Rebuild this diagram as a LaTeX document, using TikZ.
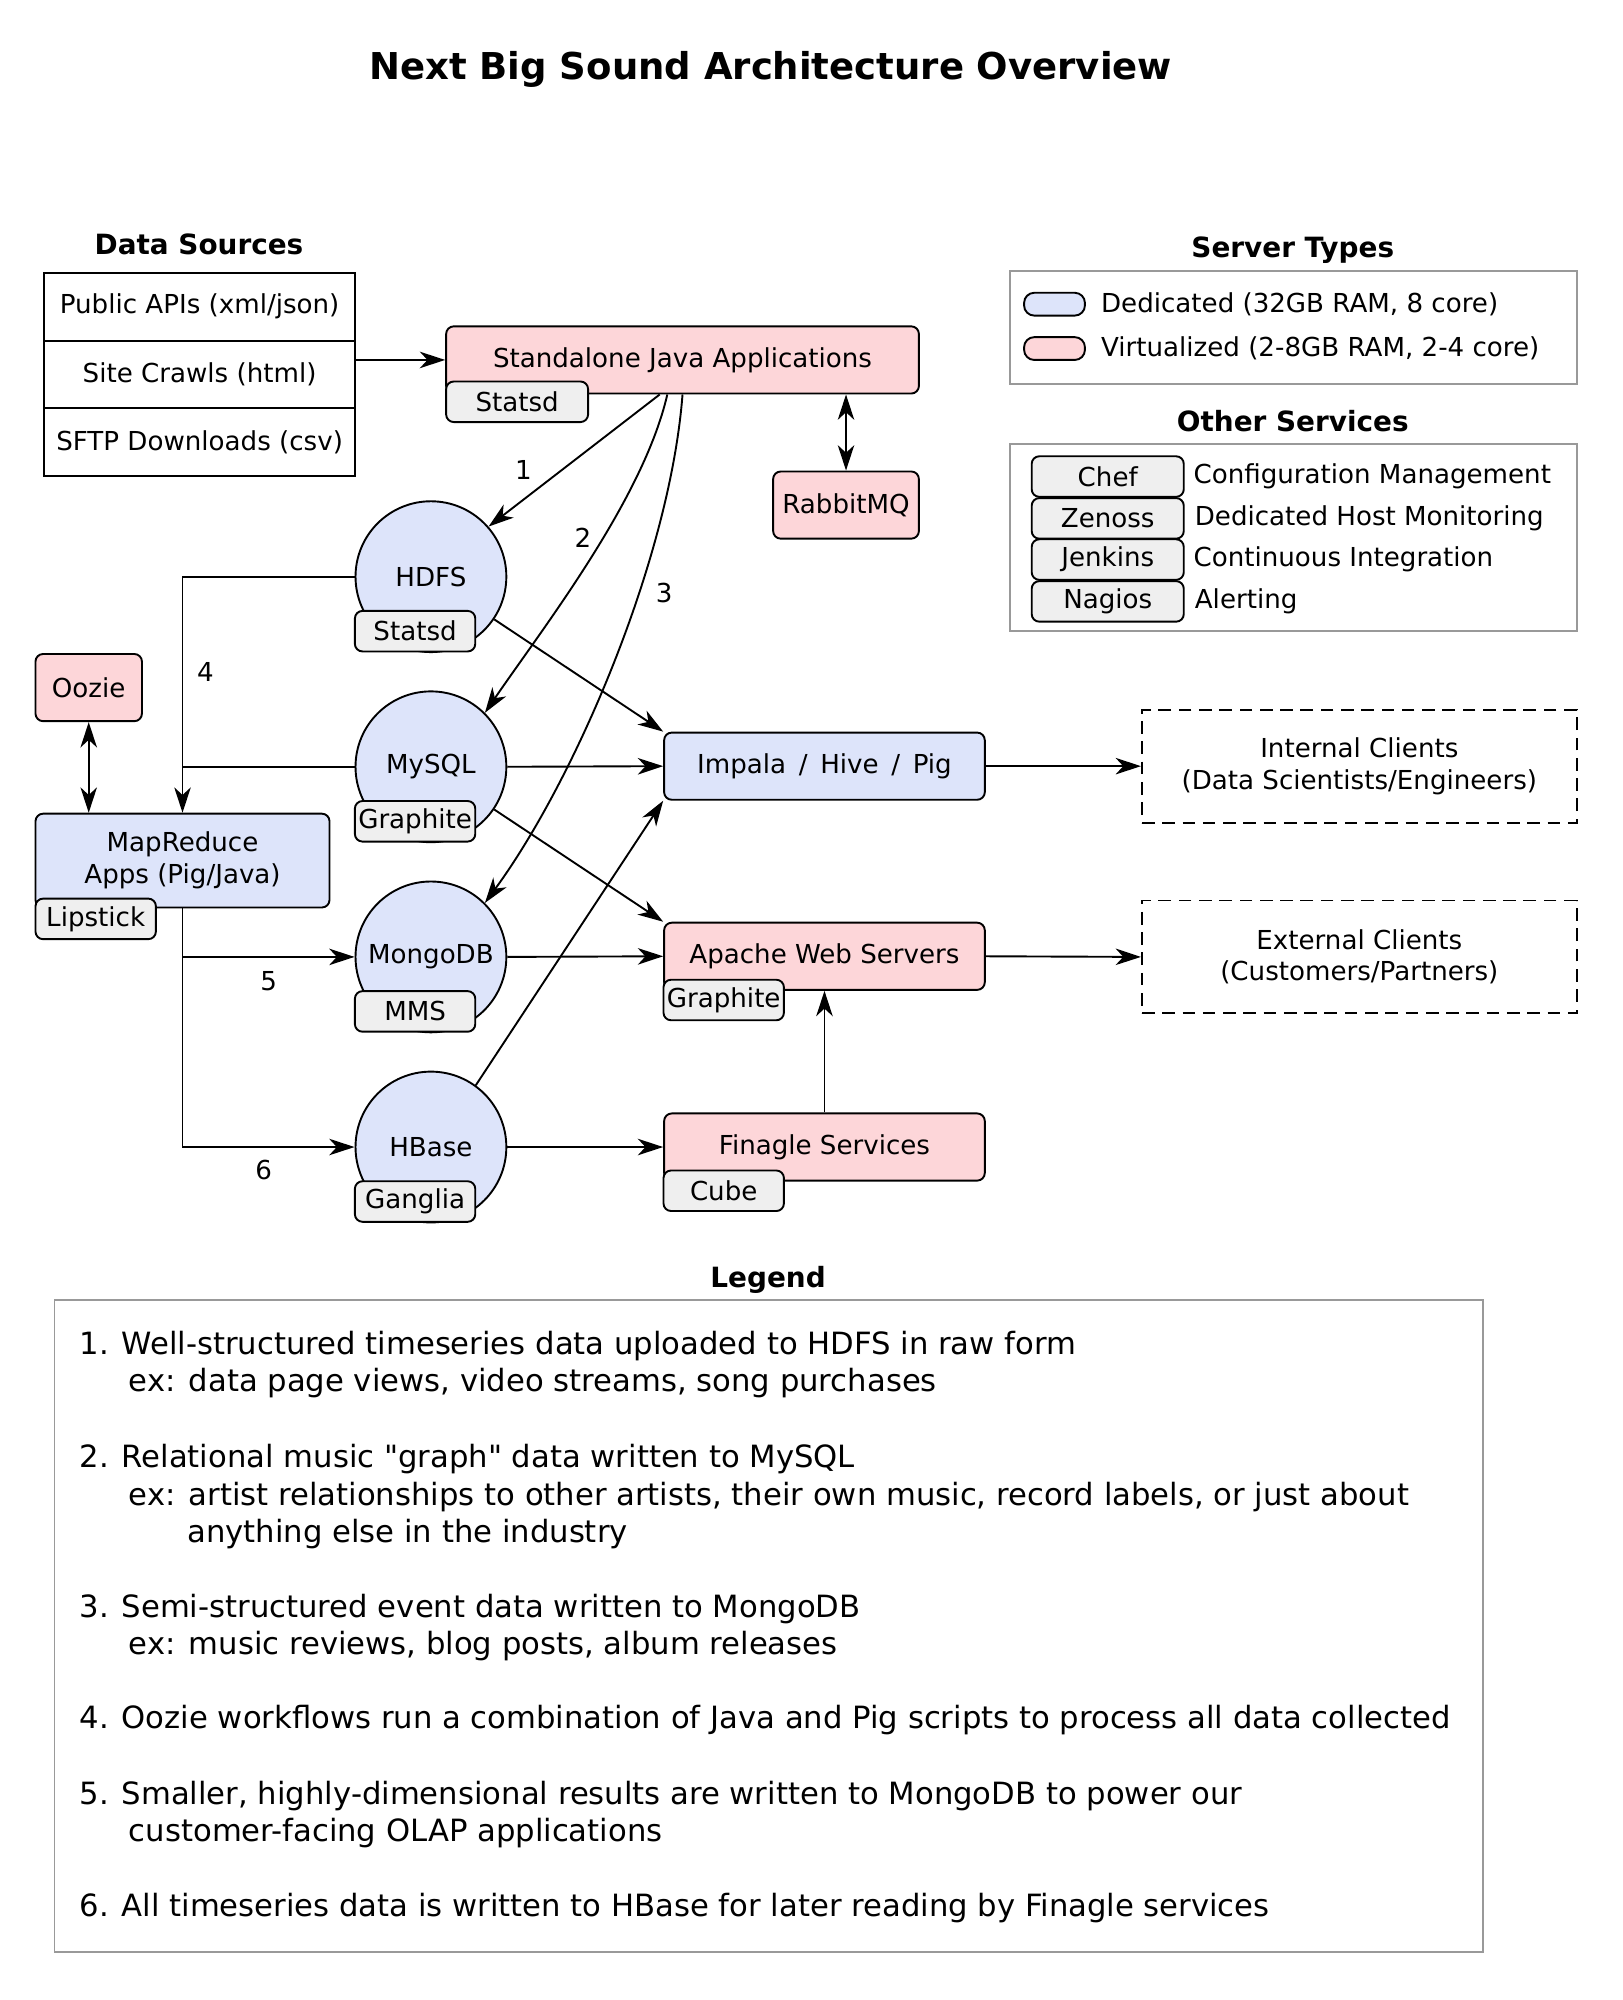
\documentclass[tikz,border=0pt]{standalone}
\usepackage{fontspec}
\setmainfont{DejaVu Sans}
\usetikzlibrary{arrows.meta}

\definecolor{dedicatedblue}{HTML}{DDE4FA}
\definecolor{virtualpink}{HTML}{FDD6D9}
\definecolor{taggray}{HTML}{EFEFEF}
\definecolor{framegray}{HTML}{999999}

\newcommand{\legendfont}{\fontsize{12.1}{14}\selectfont}
\newcommand{\headfont}{\fontsize{11}{13}\selectfont\bfseries}
\newcommand{\straightquote}{\XeTeXglyph\XeTeXcharglyph"22\relax}

\begin{document}
\begin{tikzpicture}[x=0.5pt, y=-0.5pt, line width=0.75pt,
    >={Stealth[length=10pt,width=6.5pt,inset=3pt]},
    font=\fontsize{10.3}{12.5}\selectfont,
    box/.style={draw, rounded corners=3pt, inner sep=1pt, minimum height=26.5pt, align=center},
    dedicated/.style={box, fill=dedicatedblue},
    virtual/.style={box, fill=virtualpink},
    tagbox/.style={draw, rounded corners=3pt, fill=taggray, inner sep=1pt,
      minimum width=47.5pt, minimum height=16pt},
    dbnode/.style={circle, draw, fill=dedicatedblue, minimum size=59.5pt, inner sep=0pt},
    client/.style={draw, dash pattern=on 5pt off 3pt, minimum width=171.5pt,
      minimum height=44.5pt, align=center},
    srcrow/.style={draw, minimum width=122.5pt, minimum height=26.8pt},
    heading/.style={font=\headfont},
    frame/.style={draw=framegray},
    legendline/.style={anchor=base west, inner sep=0pt, font=\legendfont}]
    \useasboundingbox (0,0) rectangle (1280,1578);

    % Title
    \node[font=\fontsize{14.6}{17}\selectfont\bfseries] (title) at (608,55) {Next Big Sound Architecture Overview};

    % Data sources
    \node[heading] (srchead) at (157,193) {Data Sources};
    \node[srcrow] (api) at (157.5,242) {Public APIs (xml/json)};
    \node[srcrow] (crawl) at (157.5,295.5) {Site Crawls (html)};
    \node[srcrow] (sftp) at (157.5,349) {SFTP Downloads (csv)};

    % Collectors
    \node[virtual, minimum width=186.5pt] (java) at (538.5,284) {Standalone Java Applications};
    \node[tagbox, minimum width=56pt] (javatag) at (408,317) {Statsd};
    \node[virtual, minimum width=57.5pt] (rabbit) at (667.5,398.5) {RabbitMQ};

    % Storage
    \node[dbnode] (hdfs) at (340,455) {HDFS};
    \node[tagbox] (hdfstag) at (327.5,498) {Statsd};
    \node[dbnode] (mysql) at (340,605) {MySQL};
    \node[tagbox] (mysqltag) at (327.5,648) {Graphite};
    \node[dbnode] (mongo) at (340,755) {MongoDB};
    \node[tagbox] (mongotag) at (327.5,798) {MMS};
    \node[dbnode] (hbase) at (340,905) {HBase};
    \node[tagbox] (hbasetag) at (327.5,948) {Ganglia};

    % Processing
    \node[virtual, minimum width=42pt] (oozie) at (70,542.5) {Oozie};
    \node[dedicated, minimum width=116pt, minimum height=37pt] (mapred) at (144,679) {MapReduce\\Apps (Pig/Java)};
    \node[tagbox] (mapredtag) at (75.5,725) {Lipstick};

    % Serving
    \node[dedicated, minimum width=126.5pt] (impala) at (650.5,604.5) {Impala\,\ /\ \,Hive\,\ /\ \,Pig};
    \node[virtual, minimum width=126.5pt] (apache) at (650.5,754.5) {Apache Web Servers};
    \node[tagbox] (apachetag) at (571,789) {Graphite};
    \node[virtual, minimum width=126.5pt] (finagle) at (650.5,905) {Finagle Services};
    \node[tagbox] (finagletag) at (571,939.5) {Cube};

    % Clients
    \node[client] (internal) at (1072.5,604.5) {Internal Clients\\(Data Scientists/Engineers)};
    \node[client] (external) at (1072.5,755) {External Clients\\(Customers/Partners)};

    % Connectors
    \draw[->] (java.west -| crawl.east) -- (java.west);
    \draw[<->] (rabbit.north) -- (rabbit.north |- java.south);
    \draw[->] ([xshift=-9pt]java.south) -- (hdfs.41);
    \draw[->] ([xshift=-6pt]java.south) .. controls +(-19,83) and +(45,-66) .. (mysql.45);
    \draw[->] (java.south) .. controls +(-10,130) and +(71,-97) .. (mongo.45);
    \draw[->] (hdfs.west) -| (mapred.north);
    \draw (mysql.west) -- (mysql.west -| mapred.north);
    \draw[<->] (oozie.south) -- (oozie.south |- mapred.north);
    \draw[->] (mapred.south) |- (hbase.west);
    \draw[->] (mapred.south |- mongo.west) -- (mongo.west);
    \draw[->] (hdfs.-34) -- (impala.north west);
    \draw[->] (mysql.east) -- (impala.west);
    \draw[->] (mysql.-34) -- (apache.north west);
    \draw[->] (mongo.east) -- (apache.west);
    \draw[->] (hbase.54) -- (impala.south west);
    \draw[->] (hbase.east) -- (finagle.west);
    \draw[->] (finagle.north) -- (apache.south);
    \draw[->] (impala.east) -- (internal.west);
    \draw[->] (apache.east) -- (external.west);

    % Flow numbers
    \node (n1) at (413,371) {1};
    \node (n2) at (460,424) {2};
    \node (n3) at (524,468) {3};
    \node (n4) at (162,530) {4};
    \node (n5) at (212,774) {5};
    \node (n6) at (208,923) {6};

    % Server types
    \node[heading] (typehead) at (1020,197) {Server Types};
    \draw[frame] (797,214) rectangle (1244,303);
    \node[draw, rounded corners=4pt, fill=dedicatedblue, minimum width=24pt, minimum height=9pt, inner sep=0pt] (swded) at (832,240) {};
    \node[anchor=west, inner sep=0pt] (txtded) at (868,240) {Dedicated (32GB RAM, 8 core)};
    \node[draw, rounded corners=4pt, fill=virtualpink, minimum width=24pt, minimum height=9pt, inner sep=0pt] (swvirt) at (832,275) {};
    \node[anchor=west, inner sep=0pt] (txtvirt) at (868,275) {Virtualized (2-8GB RAM, 2-4 core)};

    % Other services
    \node[heading] (otherhead) at (1020,332) {Other Services};
    \draw[frame] (797,350) rectangle (1244,498);
    \node[tagbox, minimum width=60pt] (chef) at (874,376) {Chef};
    \node[tagbox, minimum width=60pt] (zenoss) at (874,409) {Zenoss};
    \node[tagbox, minimum width=60pt] (jenkins) at (874,441.5) {Jenkins};
    \node[tagbox, minimum width=60pt] (nagios) at (874,474.5) {Nagios};
    \node[anchor=west, inner sep=0pt] (chefdesc) at (941,376) {Configuration Management};
    \node[anchor=west, inner sep=0pt] (zenossdesc) at (942,409) {Dedicated Host Monitoring};
    \node[anchor=west, inner sep=0pt] (jenkinsdesc) at (941,441.5) {Continuous Integration};
    \node[anchor=west, inner sep=0pt] (nagiosdesc) at (942,474.5) {Alerting};

    % Legend
    \node[heading] (leghead) at (606,1010) {Legend};
    \draw[frame] (43,1026) rectangle (1170,1540);
    \node[legendline] (l1a) at (62,1069) {1. Well-structured timeseries data uploaded to HDFS in raw form};
    \node[legendline] (l1b) at (101,1098) {ex: data page views, video streams, song purchases};
    \node[legendline] (l2a) at (62,1158) {2. Relational music \straightquote graph\straightquote{} data written to MySQL};
    \node[legendline] (l2b) at (101,1188) {ex: artist relationships to other artists, their own music, record labels, or just about};
    \node[legendline] (l2c) at (147,1217) {anything else in the industry};
    \node[legendline] (l3a) at (62,1276) {3. Semi-structured event data written to MongoDB};
    \node[legendline] (l3b) at (101,1305) {ex: music reviews, blog posts, album releases};
    \node[legendline] (l4a) at (62,1364) {4. Oozie workflows run a combination of Java and Pig scripts to process all data collected};
    \node[legendline] (l5a) at (62,1424) {5. Smaller, highly-dimensional results are written to MongoDB to power our};
    \node[legendline] (l5b) at (101,1453) {customer-facing OLAP applications};
    \node[legendline] (l6a) at (62,1512) {6. All timeseries data is written to HBase for later reading by Finagle services};
\end{tikzpicture}
\end{document}
